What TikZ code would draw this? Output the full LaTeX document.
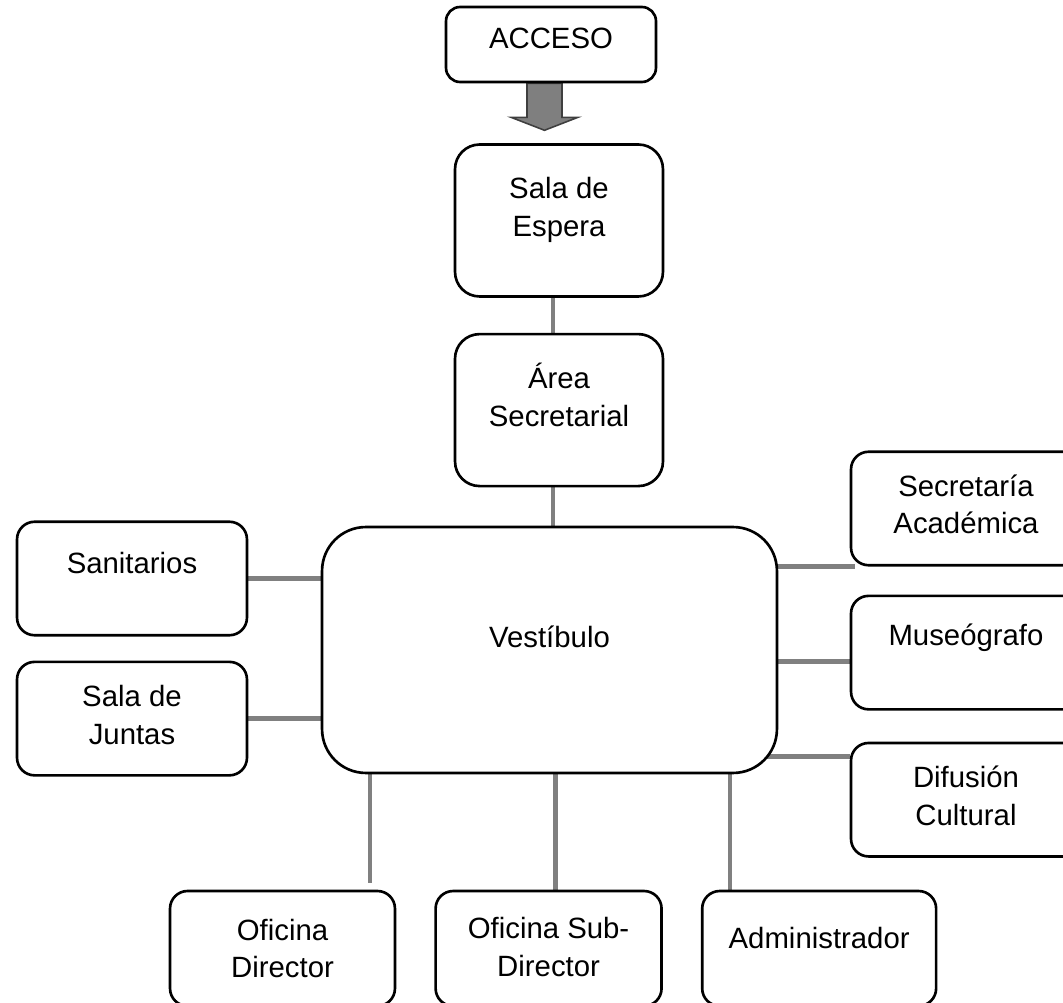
\documentclass[tikz,border=0pt]{standalone}
\usepackage{fontspec}
\setmainfont{Liberation Sans}
\usetikzlibrary{positioning,backgrounds}
\definecolor{linkgray}{HTML}{808080}
\definecolor{arrowgray}{HTML}{7F7F7F}
\definecolor{arrowedge}{HTML}{3F3F3F}
\newcommand{\padbelow}[1]{\rule[-#1]{0pt}{#1}}

\begin{document}
\begin{tikzpicture}[
    x=0.02cm, y=-0.02cm,
    every node/.style={font=\fontsize{16.7pt}{21.5pt}\selectfont},
    room/.style={rectangle,rounded corners=10pt,draw=black,line width=1.5pt,
      fill=white,align=center,minimum width=4.6cm,minimum height=2.27cm,inner sep=2pt},
    tall/.style={room,rounded corners=14pt,minimum width=4.16cm,minimum height=3.04cm},
    link/.style={draw=linkgray,line width=2.5pt},
    entry/.style={fill=arrowgray,draw=arrowedge,line width=0.9pt},
  ]
  \useasboundingbox (0,0) rectangle (1063,1003);
  % entrada
  \node[room,rounded corners=8pt,minimum width=4.2cm,minimum height=1.5cm] (acceso) at (551,44.5) {ACCESO\padbelow{7.4pt}};
  \node[tall] (espera) at (559,220.5) {Sala de\\Espera\padbelow{15.7pt}};
  \node[tall,below=0.7cm of espera] (secret) {Área\\Secretarial\padbelow{17pt}};
  \node[room,rounded corners=25pt,minimum width=9.1cm,minimum height=4.92cm] (vest) at (549.5,650) {Vestíbulo\padbelow{14.7pt}};
  % lado izquierdo
  \node[room] (san) at (132,578.5) {Sanitarios\padbelow{17.6pt}};
  \node[room,below=0.48cm of san] (juntas) {Sala de\\Juntas\padbelow{4.5pt}};
  % lado derecho
  \node[room] (acad) at (966,508.5) {Secretaría\\Académica\padbelow{5pt}};
  \node[room,below=0.56cm of acad] (museo) {Museógrafo\padbelow{20.2pt}};
  \node[room,below=0.62cm of museo] (difusion) {Difusión\\Cultural\padbelow{4.5pt}};
  % oficinas
  \node[room,minimum width=4.5cm,minimum height=2.3cm] (ofdir) at (282.5,948.5) {Oficina\\Director};
  \node[room,minimum width=4.52cm,minimum height=2.3cm,right=0.76cm of ofdir] (ofsub) {Oficina Sub-\\Director\padbelow{2pt}};
  \node[room,minimum width=4.68cm,minimum height=2.3cm,right=0.76cm of ofsub] (admin) {Administrador\padbelow{12.5pt}};
  \begin{pgfonlayer}{background}
    \draw[entry] ([xshift=-0.13cm]acceso.south) ++(-0.35cm,0cm) -- ++(0cm,-0.68cm) -- ++(-0.32cm,0cm)
      -- ++(0.67cm,-0.26cm) -- ++(0.67cm,0.26cm) -- ++(-0.32cm,0cm) -- ++(0cm,0.68cm) -- cycle;
    \draw[link] ([xshift=-0.12cm]espera.south) -- ([xshift=-0.12cm]secret.north);
    \draw[link] ([xshift=-0.12cm]secret.south) -- ([xshift=-0.12cm]secret.south |- vest.center);
    \draw[link] (san.east) -- (san.east -| vest.center);
    \draw[link] (juntas.east) -- (juntas.east -| vest.center);
    \draw[link] ([xshift=0.1cm]acad.south west) -- (acad.south west -| vest.center);
    \draw[link] ([yshift=-0.18cm]museo.west) -- ([yshift=-0.18cm]museo.west -| vest.center);
    \draw[link] ([yshift=-0.3cm]difusion.north west) -- ([yshift=-0.3cm]difusion.north west -| vest.center);
    \draw[link] ([xshift=-0.52cm,yshift=0.14cm]ofdir.north east) -- ([xshift=-0.52cm]ofdir.north east |- vest.center);
    \draw[link] ([xshift=0.14cm]ofsub.north) -- ([xshift=0.14cm]ofsub.north |- vest.center);
    \draw[link] ([xshift=0.58cm]admin.north west) -- ([xshift=0.58cm]admin.north west |- vest.center);
  \end{pgfonlayer}
\end{tikzpicture}
\end{document}
